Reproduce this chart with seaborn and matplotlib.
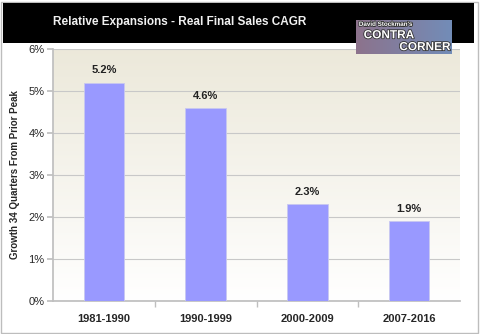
import numpy as np
import pandas as pd
import matplotlib
matplotlib.use("Agg")
import matplotlib.pyplot as plt
import seaborn as sns
from matplotlib.patches import Rectangle
from matplotlib.ticker import FuncFormatter
import matplotlib.patheffects as pe

periods = ["1981-1990", "1990-1999", "2000-2009", "2007-2016"]
cagr = [5.2, 4.6, 2.3, 1.9]
value_labels = ["5.2%", "4.6%", "2.3%", "1.9%"]
y_ticks = [0, 1, 2, 3, 4, 5, 6]

df = pd.DataFrame({"period": periods, "cagr": cagr})

sns.set_theme(style="white")
plt.rcParams['font.family'] = ['Liberation Sans', 'DejaVu Sans']

W, H = 480, 334
fig = plt.figure(figsize=(W / 100, H / 100), dpi=100)
fig.patch.set_facecolor("white")

# outer border
fig.add_artist(Rectangle((1 / W, 1 / H), (W - 3) / W, (H - 3) / H, transform=fig.transFigure,
                         fill=False, edgecolor="#bdbdbd", linewidth=1))
# black header
fig.add_artist(Rectangle((3 / W, 1 - 43 / H), (474 - 3) / W, 40 / H, transform=fig.transFigure,
                         facecolor="black", edgecolor="none"))
fig.text(180 / W, 1 - 22 / H, "Relative Expansions - Real Final Sales CAGR", color="#f0f0f0",
         fontsize=8.5, fontweight="bold", ha="center", va="center")

# logo
lx0, ly0, lx1, ly1 = 356, 20, 452, 54
grad_l = np.linspace(0, 1, 64).reshape(1, -1)
c_left = np.array([0.55, 0.45, 0.55])
c_right = np.array([0.45, 0.55, 0.72])
logo_img = c_left[None, None, :] * (1 - grad_l[:, :, None]) + c_right[None, None, :] * grad_l[:, :, None]
lax = fig.add_axes([lx0 / W, 1 - ly1 / H, (lx1 - lx0) / W, (ly1 - ly0) / H], zorder=5)
lax.imshow(logo_img, aspect="auto", extent=[0, 1, 0, 1])
lax.set_axis_off()
shadow = [pe.withStroke(linewidth=1.2, foreground="#333333")]
lax.text(0.03, 0.87, "David Stockman's", color="white", fontsize=4.5, fontweight="bold",
         ha="left", va="center", path_effects=shadow)
lax.text(0.08, 0.55, "CONTRA", color="white", fontsize=8.5, fontweight="bold",
         ha="left", va="center", path_effects=shadow)
lax.text(0.98, 0.2, "CORNER", color="white", fontsize=8.5, fontweight="bold",
         ha="right", va="center", path_effects=shadow)

ax = fig.add_axes([53 / W, 1 - 301 / H, (460 - 53) / W, (301 - 49) / H])

# gradient background (beige top -> white bottom)
grad = np.linspace(0, 1, 256).reshape(-1, 1)
top = np.array([0.925, 0.912, 0.855])
bot = np.array([1.0, 1.0, 1.0])
img = top[None, None, :] * (1 - grad[:, :, None]) + bot[None, None, :] * grad[:, :, None]
ax.imshow(img, extent=[-0.5, 3.5, 0, 6], origin="upper", aspect="auto", zorder=0)

sns.barplot(data=df, x="period", y="cagr", color="#9999ff", width=0.4, saturation=1,
            edgecolor="#c8c8f0", linewidth=0.6, ax=ax, zorder=3)

ax.set_xlim(-0.5, 3.5)
ax.set_ylim(0, 6)
ax.set_yticks(y_ticks)
ax.yaxis.set_major_formatter(FuncFormatter(lambda v, p: f"{int(v)}%"))
ax.grid(axis="y", color="#c8c8c8", linewidth=0.8, zorder=1)
ax.set_axisbelow(True)

for i, (v, lab) in enumerate(zip(cagr, value_labels)):
    ax.text(i, v + 0.17, lab, ha="center", va="bottom", fontsize=8, fontweight="bold", color="#222222")

for s in ["top", "right"]:
    ax.spines[s].set_visible(False)
ax.spines["left"].set_color("#bfbfbf")
ax.spines["bottom"].set_color("#bfbfbf")
ax.tick_params(axis="y", length=4, color="#bfbfbf", labelsize=8, pad=2, direction="out", left=True)
ax.tick_params(axis="x", length=0, labelsize=8, pad=9)
ax.set_xticks([0, 1, 2, 3])
ax.set_xticklabels(periods, fontweight="bold")
ax.set_xticks([0.5, 1.5, 2.5], minor=True)
ax.tick_params(axis="x", which="minor", length=4, color="#bfbfbf", direction="out", bottom=True)
ax.set_xlabel("")
ax.set_ylabel("Growth 34 Quarters From Prior Peak", fontsize=7, fontweight="bold", labelpad=6)

fig.savefig("out.png", dpi=100)
